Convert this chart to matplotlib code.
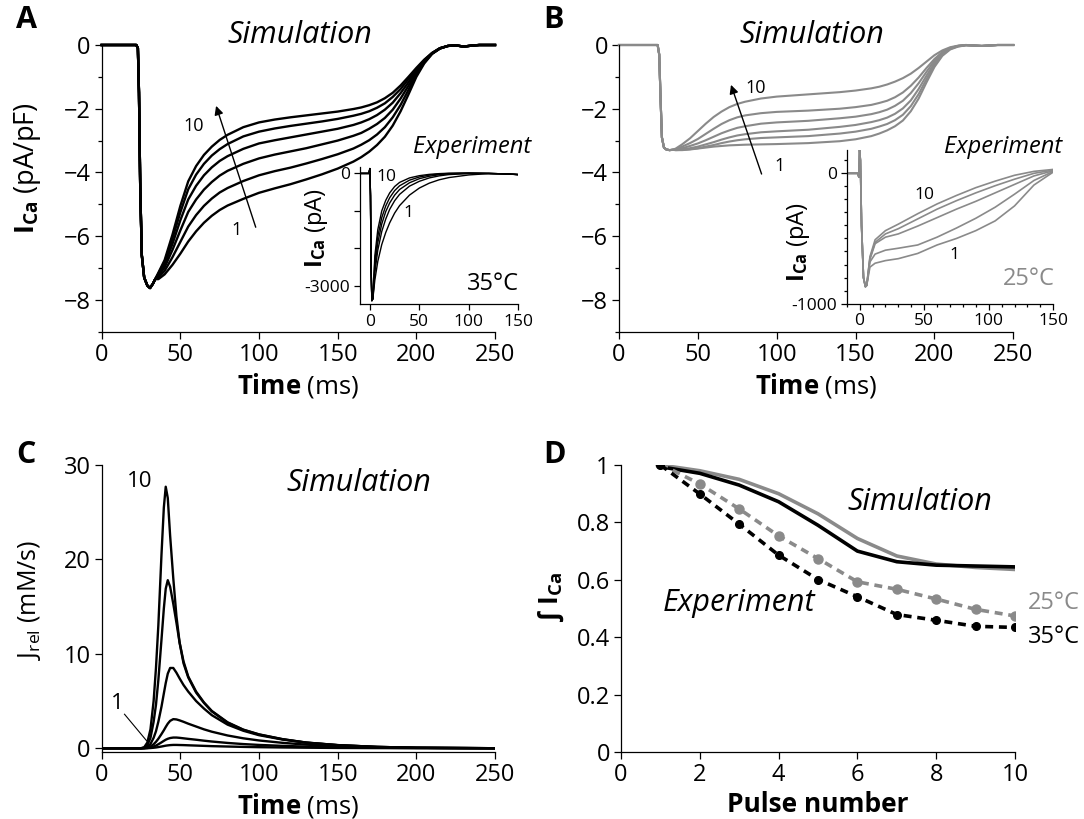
import matplotlib
matplotlib.use("Agg")
import matplotlib.pyplot as plt
from matplotlib.ticker import MultipleLocator, FixedLocator

plt.rcParams['font.family'] = ['Open Sans', 'DejaVu Sans']
plt.rcParams['mathtext.fontset'] = 'custom'
plt.rcParams['mathtext.rm'] = 'Open Sans'
plt.rcParams['mathtext.bf'] = 'Open Sans:bold'
plt.rcParams['mathtext.it'] = 'Open Sans:italic'
plt.rcParams['axes.linewidth'] = 0.9

GRAY = '#8a8a8a'

# ---------------- Panel A: simulated I_Ca, 35 C ----------------
a_pre_t = [0, 22, 23, 23.7, 24.5, 25.5, 27, 29, 30.7, 32.5, 34]
a_pre_i = [0, 0, -0.1, -1.5, -4.5, -6.6, -7.3, -7.55, -7.63, -7.5, -7.35]
a_t = [36, 40, 45, 50, 55, 60, 65, 70, 75, 80, 90, 100, 110, 120, 130, 140, 150, 160, 165,
       170, 175, 180, 185, 190, 195, 200, 205, 210, 215, 220, 225, 230, 235, 240, 250]
a_pulse10 = [-7.15, -6.75, -5.95, -5.05, -4.28, -3.80, -3.45, -3.19, -2.98, -2.82, -2.58, -2.43,
             -2.34, -2.27, -2.21, -2.15, -2.09, -2.01, -1.96, -1.89, -1.80, -1.67, -1.50, -1.27,
             -1.00, -0.72, -0.46, -0.25, -0.10, -0.03, -0.01, -0.05, -0.02, 0, 0]
a_pulse8 = [-7.18, -6.81, -6.07, -5.25, -4.53, -4.07, -3.73, -3.47, -3.27, -3.11, -2.87, -2.72,
            -2.62, -2.54, -2.47, -2.40, -2.32, -2.22, -2.16, -2.08, -1.97, -1.83, -1.63, -1.38,
            -1.07, -0.76, -0.48, -0.25, -0.10, -0.03, -0.01, -0.05, -0.02, 0, 0]
a_pulse6 = [-7.21, -6.89, -6.24, -5.50, -4.85, -4.42, -4.09, -3.84, -3.64, -3.49, -3.26, -3.09,
            -2.99, -2.90, -2.81, -2.72, -2.63, -2.51, -2.43, -2.33, -2.20, -2.03, -1.81, -1.51,
            -1.17, -0.80, -0.50, -0.26, -0.10, -0.03, -0.01, -0.05, -0.02, 0, 0]
a_pulse4 = [-7.25, -6.98, -6.43, -5.82, -5.24, -4.85, -4.54, -4.30, -4.10, -3.95, -3.73, -3.56,
            -3.44, -3.34, -3.24, -3.12, -3.00, -2.85, -2.76, -2.63, -2.48, -2.29, -2.03, -1.68,
            -1.28, -0.86, -0.52, -0.27, -0.11, -0.03, -0.01, -0.05, -0.02, 0, 0]
a_pulse2 = [-7.30, -7.09, -6.66, -6.18, -5.70, -5.34, -5.05, -4.82, -4.63, -4.49, -4.27, -4.09,
            -3.96, -3.85, -3.72, -3.58, -3.43, -3.25, -3.13, -2.99, -2.81, -2.58, -2.27, -1.88,
            -1.41, -0.93, -0.55, -0.27, -0.11, -0.03, -0.01, -0.05, -0.02, 0, 0]
a_pulse1 = [-7.35, -7.20, -6.90, -6.55, -6.17, -5.85, -5.58, -5.36, -5.18, -5.04, -4.83, -4.64,
            -4.50, -4.37, -4.22, -4.06, -3.88, -3.66, -3.52, -3.35, -3.14, -2.88, -2.53, -2.08,
            -1.55, -1.00, -0.58, -0.28, -0.11, -0.03, -0.01, -0.05, -0.02, 0, 0]
a_curves = [a_pulse1, a_pulse2, a_pulse4, a_pulse6, a_pulse8, a_pulse10]

# Inset A: recorded I_Ca at 35 C
ea_pre_x = [-10, -1, 0, 0.6, 1.2, 2, 3]
ea_pre_y = [0, 0, 130, -600, -2500, -3400, -3350]
ea_x = [5, 8, 12, 16, 20, 25, 30, 40, 50, 60, 70, 80, 100, 120, 140, 150]
ea_pulse10 = [-2200, -1500, -1000, -720, -520, -350, -240, -120, -60, -25, -5, 5, 10, 0, -15, -30]
ea_pulse7 = [-2350, -1680, -1180, -870, -650, -460, -330, -180, -95, -45, -15, 0, 10, 0, -15, -30]
ea_pulse5 = [-2500, -1850, -1350, -1020, -790, -580, -430, -250, -140, -75, -35, -10, 5, 0, -15, -30]
ea_pulse3 = [-2650, -2050, -1550, -1220, -960, -730, -560, -340, -210, -120, -65, -30, -5, 0, -15, -30]
ea_pulse1 = [-2850, -2350, -1900, -1580, -1320, -1060, -860, -580, -390, -260, -170, -110, -40, -5, -15, -35]
ea_curves = [ea_pulse1, ea_pulse3, ea_pulse5, ea_pulse7, ea_pulse10]

# ---------------- Panel B: simulated I_Ca, 25 C ----------------
b_pre_t = [0, 24.5, 25.5, 26.3, 27.2, 28.5, 30, 32, 34]
b_pre_i = [0, 0, -0.3, -1.6, -2.9, -3.22, -3.28, -3.30, -3.29]
b_t = [36, 40, 45, 50, 55, 60, 65, 70, 75, 80, 90, 100, 120, 140, 150, 160, 165, 170, 175,
       180, 185, 190, 195, 200, 205, 210, 215, 220, 230, 240, 250]
b_pulse10 = [-3.25, -3.12, -2.93, -2.70, -2.47, -2.26, -2.09, -1.95, -1.85, -1.78, -1.68, -1.62,
             -1.55, -1.48, -1.43, -1.36, -1.31, -1.24, -1.15, -1.04, -0.90, -0.72, -0.52, -0.32,
             -0.17, -0.07, -0.02, 0, -0.03, 0, 0]
b_pulse8 = [-3.27, -3.19, -3.08, -2.95, -2.79, -2.63, -2.48, -2.36, -2.27, -2.21, -2.14, -2.10,
            -2.06, -2.00, -1.95, -1.88, -1.82, -1.75, -1.64, -1.49, -1.28, -1.02, -0.72, -0.44,
            -0.22, -0.09, -0.03, 0, -0.03, 0, 0]
b_pulse6 = [-3.28, -3.24, -3.17, -3.09, -2.99, -2.88, -2.77, -2.68, -2.60, -2.55, -2.47, -2.43,
            -2.38, -2.30, -2.25, -2.17, -2.11, -2.03, -1.91, -1.75, -1.51, -1.20, -0.84, -0.50,
            -0.25, -0.10, -0.03, 0, -0.03, 0, 0]
b_pulse4 = [-3.29, -3.27, -3.24, -3.19, -3.12, -3.05, -2.97, -2.90, -2.84, -2.80, -2.74, -2.71,
            -2.66, -2.57, -2.51, -2.42, -2.36, -2.28, -2.16, -1.99, -1.74, -1.38, -0.96, -0.57,
            -0.28, -0.11, -0.03, 0, -0.03, 0, 0]
b_pulse2 = [-3.30, -3.29, -3.27, -3.24, -3.19, -3.14, -3.08, -3.03, -2.99, -2.96, -2.92, -2.90,
            -2.86, -2.78, -2.72, -2.63, -2.56, -2.48, -2.36, -2.19, -1.92, -1.54, -1.07, -0.63,
            -0.31, -0.12, -0.04, -0.01, -0.03, 0, 0]
b_pulse1 = [-3.30, -3.30, -3.28, -3.25, -3.22, -3.19, -3.17, -3.15, -3.14, -3.13, -3.12, -3.11,
            -3.08, -3.02, -2.96, -2.86, -2.78, -2.68, -2.55, -2.37, -2.08, -1.68, -1.17, -0.69,
            -0.34, -0.14, -0.05, -0.01, -0.03, 0, 0]
b_curves = [b_pulse1, b_pulse2, b_pulse4, b_pulse6, b_pulse8, b_pulse10]

# Inset B: recorded I_Ca at 25 C
eb_pre_x = [-10, -1.5, -0.5, 0, 0.6, 1.5, 3, 4.5]
eb_pre_y = [0, 0, -30, 180, 100, -400, -800, -870]
eb_x = [5.5, 8, 12, 20, 30, 45, 60, 75, 90, 105, 120, 135, 150]
eb_pulse10 = [-860, -640, -510, -440, -390, -310, -235, -170, -110, -60, -15, 15, 30]
eb_pulse7 = [-860, -650, -530, -465, -425, -350, -275, -210, -150, -95, -45, 0, 25]
eb_pulse5 = [-860, -660, -540, -490, -465, -405, -340, -275, -215, -150, -85, -20, 20]
eb_pulse3 = [-860, -680, -620, -590, -575, -550, -490, -420, -345, -260, -160, -55, 15]
eb_pulse1 = [-860, -720, -690, -670, -655, -615, -550, -500, -440, -365, -250, -90, 10]
eb_curves = [eb_pulse1, eb_pulse3, eb_pulse5, eb_pulse7, eb_pulse10]

# ---------------- Panel C: SR release flux ----------------
c_t = [0, 25, 27, 29, 31, 33, 34.5, 36, 38, 39.5, 40.7, 42, 43.5, 45.5, 47.5, 49.5, 52, 55,
       60, 65, 70, 80, 90, 100, 115, 130, 150, 175, 200, 250]
c_pulse10 = [0, 0, 0.1, 0.6, 2.0, 5.0, 8.5, 13, 20.5, 25.5, 27.7, 26.5, 22.5, 18, 14, 11.2,
             9.0, 7.5, 5.9, 4.8, 3.9, 2.7, 1.95, 1.45, 0.95, 0.6, 0.33, 0.14, 0.05, 0]
c_pulse9 = [0, 0, 0.05, 0.3, 1.1, 2.8, 4.6, 7.2, 11.5, 14.8, 16.9, 17.8, 17.1, 15.3, 13.3, 11.2,
            9.2, 7.6, 6.0, 4.85, 3.95, 2.75, 1.97, 1.47, 0.96, 0.6, 0.33, 0.14, 0.05, 0]
c_pulse8 = [0, 0, 0.02, 0.12, 0.45, 1.1, 1.8, 2.8, 4.4, 5.8, 6.9, 7.9, 8.5, 8.5, 8.0, 7.4,
            6.7, 6.0, 5.0, 4.2, 3.5, 2.5, 1.85, 1.38, 0.92, 0.58, 0.32, 0.14, 0.05, 0]
c_pulse7 = [0, 0, 0.01, 0.05, 0.18, 0.42, 0.68, 1.0, 1.5, 1.9, 2.25, 2.6, 2.9, 3.08, 3.05, 2.95,
            2.8, 2.6, 2.3, 2.0, 1.75, 1.35, 1.05, 0.82, 0.57, 0.38, 0.22, 0.1, 0.04, 0]
c_pulse6 = [0, 0, 0, 0.02, 0.07, 0.17, 0.28, 0.42, 0.62, 0.78, 0.9, 1.0, 1.08, 1.13, 1.13, 1.1,
            1.05, 0.99, 0.9, 0.8, 0.71, 0.56, 0.44, 0.35, 0.25, 0.17, 0.1, 0.05, 0.02, 0]
c_pulse1 = [0, 0, 0, 0.005, 0.02, 0.05, 0.08, 0.12, 0.18, 0.23, 0.27, 0.3, 0.33, 0.35, 0.35, 0.34,
            0.33, 0.31, 0.28, 0.25, 0.22, 0.18, 0.14, 0.11, 0.08, 0.055, 0.03, 0.015, 0.005, 0]
c_curves = [c_pulse1, c_pulse6, c_pulse7, c_pulse8, c_pulse9, c_pulse10]

# ---------------- Panel D: normalised integrated I_Ca ----------------
pulse_number = [1, 2, 3, 4, 5, 6, 7, 8, 9, 10]
sim_35 = [0.994, 0.971, 0.930, 0.872, 0.790, 0.700, 0.663, 0.651, 0.648, 0.645]
sim_25 = [1.000, 0.980, 0.950, 0.900, 0.830, 0.744, 0.683, 0.655, 0.643, 0.636]
exp_25 = [1.003, 0.934, 0.847, 0.753, 0.674, 0.593, 0.567, 0.533, 0.497, 0.474]
exp_35 = [1.000, 0.899, 0.794, 0.686, 0.601, 0.541, 0.479, 0.459, 0.438, 0.434]

W, H = 1084, 819
fig = plt.figure(figsize=(W / 100, H / 100), dpi=100)

TICK = 17
XLAB = 18.5


def rect(x0, y0, x1, y1):
    # pixel box (left, top, right, bottom) -> figure fraction rect
    return [x0 / W, 1 - y1 / H, (x1 - x0) / W, (y1 - y0) / H]


def style(ax, size=TICK, major=5, minor=3):
    for s in ('top', 'right'):
        ax.spines[s].set_visible(False)
    ax.tick_params(which='major', direction='out', length=major, width=0.9,
                   labelsize=size, pad=3)
    ax.tick_params(which='minor', direction='out', length=minor, width=0.9)


def uminus(v):
    return ('\u2212' + str(abs(v))) if v < 0 else str(v)


# ---- A ----
axA = fig.add_axes(rect(101.7, 45, 495, 331.7))
for c in a_curves:
    axA.plot(a_pre_t + a_t, a_pre_i + c, color='black', lw=1.7, clip_on=False,
             solid_joinstyle='round')
axA.set_xlim(0, 250)
axA.set_ylim(-9, 0)
axA.set_yticks([0, -2, -4, -6, -8])
axA.set_yticklabels([uminus(v) for v in [0, -2, -4, -6, -8]])
axA.yaxis.set_minor_locator(FixedLocator([-1, -3, -5, -7, -9]))
axA.set_xticks([0, 50, 100, 150, 200, 250])
style(axA)
axA.set_xlabel(r'$\mathbf{Time}$ (ms)', fontsize=XLAB, labelpad=3)
axA.set_ylabel(r'$\mathbf{I}_{\mathbf{Ca}}$ (pA/pF)', fontsize=19.5)
axA.yaxis.set_label_coords(-0.15, 0.57)
axA.text(126, 0.3, 'Simulation', fontsize=22, style='italic', ha='center', va='center')
axA.annotate('', xy=(72.7, -1.91), xytext=(97.9, -5.72),
             arrowprops=dict(arrowstyle='-|>', lw=1.0, color='black', mutation_scale=13,
                             shrinkA=0, shrinkB=0))
axA.text(58.7, -2.54, '10', fontsize=13, ha='center', va='center')
axA.text(85.8, -5.80, '1', fontsize=13, ha='center', va='center')
fig.text(16 / W, 1 - 20 / H, 'A', fontsize=22, fontweight='bold', ha='left', va='center')

axAi = fig.add_axes(rect(360, 166.7, 518.3, 304))
for c in ea_curves:
    axAi.plot(ea_pre_x + ea_x, ea_pre_y + c, color='black', lw=1.0)
axAi.set_xlim(-10, 150)
axAi.set_ylim(-3490, 180)
axAi.set_yticks([0, -1000, -2000, -3000])
axAi.set_yticklabels(['0', '', '', '-3000'])
axAi.set_xticks([0, 50, 100, 150])
style(axAi, size=12.5, major=4)
axAi.set_ylabel(r'$\mathbf{I}_{\mathbf{Ca}}$ (pA)', fontsize=17, labelpad=0)
axAi.yaxis.set_label_coords(-0.19, 0.55)
axAi.text(17, -90, '10', fontsize=12.5, ha='center', va='center')
axAi.text(39, -1070, '1', fontsize=12.5, ha='center', va='center')
axAi.text(151, -2960, '35\u00b0C', fontsize=17, ha='right', va='center')
fig.text(472 / W, 1 - 147 / H, 'Experiment', fontsize=17, style='italic', ha='center', va='center')

# ---- B ----
axB = fig.add_axes(rect(619, 45, 1013.3, 331.7))
for c in b_curves:
    axB.plot(b_pre_t + b_t, b_pre_i + c, color=GRAY, lw=1.5, clip_on=False,
             solid_joinstyle='round')
axB.set_xlim(0, 250)
axB.set_ylim(-9, 0)
axB.set_yticks([0, -2, -4, -6, -8])
axB.set_yticklabels([uminus(v) for v in [0, -2, -4, -6, -8]])
axB.yaxis.set_minor_locator(FixedLocator([-1, -3, -5, -7, -9]))
axB.set_xticks([0, 50, 100, 150, 200, 250])
style(axB)
axB.set_xlabel(r'$\mathbf{Time}$ (ms)', fontsize=XLAB, labelpad=3)
axB.text(122, 0.3, 'Simulation', fontsize=22, style='italic', ha='center', va='center')
axB.annotate('', xy=(71.0, -1.25), xytext=(90.4, -4.05),
             arrowprops=dict(arrowstyle='-|>', lw=1.0, color='black', mutation_scale=13,
                             shrinkA=0, shrinkB=0))
axB.text(86.9, -1.34, '10', fontsize=13, ha='center', va='center')
axB.text(102, -3.79, '1', fontsize=13, ha='center', va='center')
fig.text(543 / W, 1 - 20 / H, 'B', fontsize=22, fontweight='bold', ha='left', va='center')

axBi = fig.add_axes(rect(846.7, 150, 1053.3, 303.6))
for c in eb_curves:
    axBi.plot(eb_pre_x + eb_x, eb_pre_y + c, color=GRAY, lw=1.2)
axBi.set_xlim(-10, 150)
axBi.set_ylim(-1000, 179)
axBi.set_yticks([0, -1000])
axBi.set_yticklabels(['0', '-1000'])
axBi.yaxis.set_minor_locator(MultipleLocator(100))
axBi.set_xticks([0, 50, 100, 150])
axBi.xaxis.set_minor_locator(MultipleLocator(10))
style(axBi, size=12.5, major=4, minor=2.5)
axBi.set_ylabel(r'$\mathbf{I}_{\mathbf{Ca}}$ (pA)', fontsize=17, labelpad=0)
axBi.yaxis.set_label_coords(-0.17, 0.40)
axBi.text(50.5, -167, '10', fontsize=12.5, ha='center', va='center')
axBi.text(73.8, -627, '1', fontsize=12.5, ha='center', va='center')
axBi.text(151, -810, '25\u00b0C', fontsize=17, color=GRAY, ha='right', va='center')
fig.text(1003 / W, 1 - 147 / H, 'Experiment', fontsize=17, style='italic', ha='center', va='center')

# ---- C ----
axC = fig.add_axes(rect(101.7, 465, 495, 752))
for c in c_curves:
    axC.plot(c_t, c, color='black', lw=1.7, solid_joinstyle='round')
axC.set_xlim(0, 250)
axC.set_ylim(-0.4, 30)
axC.set_yticks([0, 10, 20, 30])
axC.set_xticks([0, 50, 100, 150, 200, 250])
style(axC)
axC.set_xlabel(r'$\mathbf{Time}$ (ms)', fontsize=XLAB, labelpad=3)
axC.set_ylabel(r'J$_{\mathrm{rel}}$ (mM/s)', fontsize=18)
axC.yaxis.set_label_coords(-0.15, 0.53)
axC.text(163.6, 28.1, 'Simulation', fontsize=22, style='italic', ha='center', va='center')
axC.text(24.3, 28.3, '10', fontsize=16, ha='center', va='center')
axC.text(9.9, 4.7, '1', fontsize=16, ha='center', va='center')
axC.plot([14.5, 28.5], [3.6, 0.8], color='black', lw=0.8)
fig.text(16 / W, 1 - 455 / H, 'C', fontsize=22, fontweight='bold', ha='left', va='center')

# ---- D ----
axD = fig.add_axes(rect(621, 465, 1015, 752))
axD.plot(pulse_number, sim_25, color=GRAY, lw=2.6)
axD.plot(pulse_number, sim_35, color='black', lw=2.6)
axD.plot(pulse_number, exp_25, color=GRAY, lw=2.6, ls=(0, (2.2, 1.6)),
         marker='o', ms=6.5, mec=GRAY, mfc=GRAY)
axD.plot(pulse_number, exp_35, color='black', lw=2.6, ls=(0, (2.2, 1.6)),
         marker='o', ms=5.5, mec='black', mfc='black')
axD.set_xlim(0, 10)
axD.set_ylim(0, 1)
axD.set_xticks([0, 2, 4, 6, 8, 10])
axD.set_yticks([0, 0.2, 0.4, 0.6, 0.8, 1.0])
axD.set_yticklabels(['0', '0.2', '0.4', '0.6', '0.8', '1'])
style(axD)
axD.set_xlabel('Pulse number', fontsize=19, fontweight='bold', labelpad=3)
axD.set_ylabel('\u222b ' + r'$\mathbf{I}_{\mathbf{Ca}}$', fontsize=19, fontweight='bold')
axD.yaxis.set_label_coords(-0.14, 0.54)
axD.text(7.59, 0.872, 'Simulation', fontsize=22, style='italic', ha='center', va='center')
axD.text(2.99, 0.519, 'Experiment', fontsize=22, style='italic', ha='center', va='center')
axD.text(10.33, 0.519, '25\u00b0C', fontsize=17, color=GRAY, ha='left', va='center')
axD.text(10.33, 0.40, '35\u00b0C', fontsize=17, color='black', ha='left', va='center')
fig.text(543 / W, 1 - 455 / H, 'D', fontsize=22, fontweight='bold', ha='left', va='center')

fig.savefig('out.png', dpi=100)
